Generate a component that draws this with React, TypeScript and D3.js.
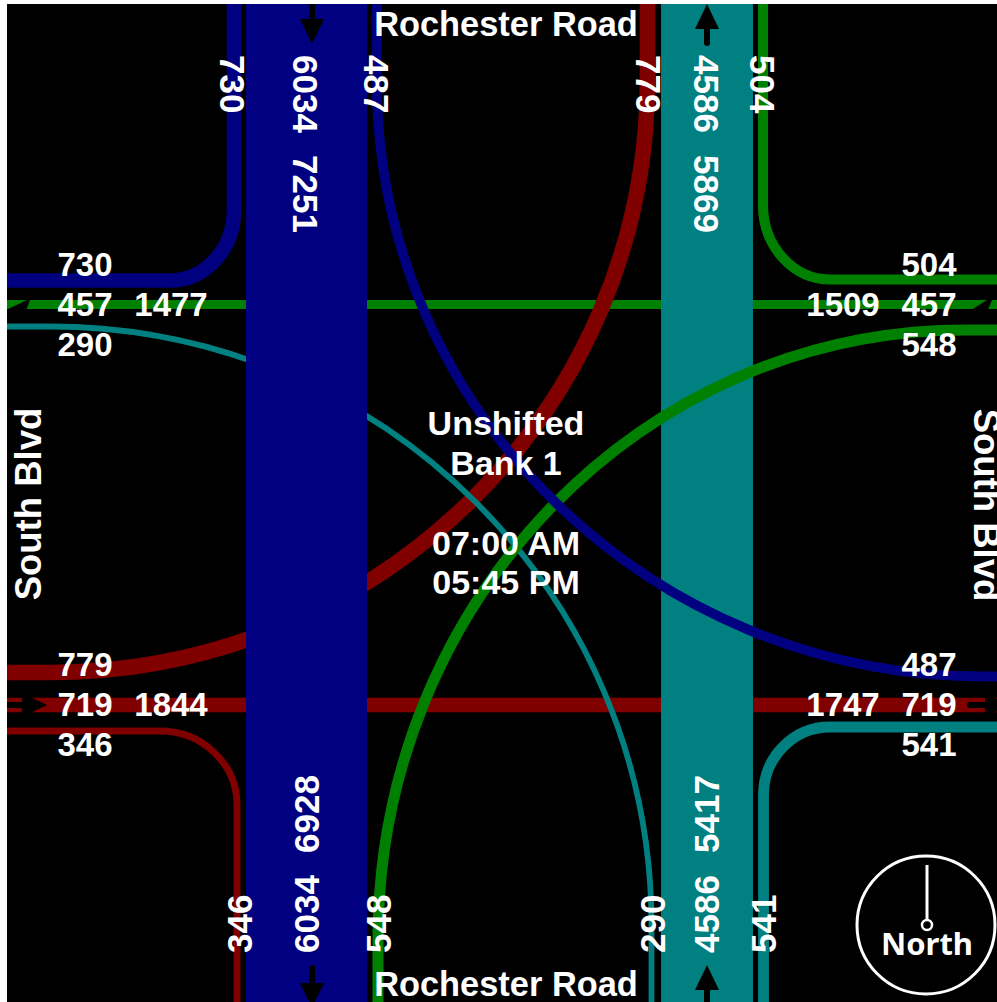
import * as d3 from "d3";

// volumes
const southboundVolume = 6034;
const northboundVolume = 4586;
const westboundThrough = 457;
const eastboundThrough = 719;
const turnVolumes = [730, 290, 779, 346, 487, 548, 504, 541];
const roadNames = ["Rochester Road", "South Blvd"];
const centerLines = ["Unshifted", "Bank 1", "07:00 AM", "05:45 PM"];
const legTotals = [7251, 6928, 5869, 5417, 1477, 1844, 1509, 1747];

const NAVY = "#000080";
const TEAL = "#008080";
const GREEN = "#008000";
const MAROON = "#800000";

const width = 997;
const height = 1002;
const left = 7;
const top = 4;
const K = 0.5523; // bezier handle for a quarter ellipse

const thick = d3.scaleLinear().domain([0, southboundVolume]).range([0, 121]);

// horizontal run, quarter ellipse, vertical run
function bend(x0: number, y0: number, x1: number, y1: number, ex: number, ey: number) {
  const p = d3.path();
  p.moveTo(ex, y0);
  p.lineTo(x0, y0);
  p.bezierCurveTo(x0 + (x1 - x0) * K, y0, x1, y1 + (y0 - y1) * K, x1, y1);
  p.lineTo(x1, ey);
  return p.toString();
}

function Arrow({ x, y, dir, tip }: { x: number; y: number; dir: number; tip: number }) {
  // dir: rotation in degrees, pointing right at 0; tip = distance of the point from (x,y)
  const head = d3.path();
  head.moveTo(tip, 0);
  head.lineTo(tip - 25, -12);
  head.lineTo(tip - 25, 12);
  head.closePath();
  return (
    <g transform={`translate(${x},${y}) rotate(${dir})`}>
      <line x1={0} x2={tip - 20} y1={0} y2={0} stroke="#000" strokeWidth={6} strokeLinecap="round" />
      <path d={head.toString()} fill="#000" />
    </g>
  );
}

function Txt({ x, y, rot, anchor, size, children }: any) {
  return (
    <text
      transform={`translate(${x},${y})${rot ? ` rotate(${rot})` : ""}`}
      textAnchor={anchor ?? "middle"}
      dominantBaseline="central"
      fontFamily="'Liberation Sans', Arial, sans-serif"
      fontWeight="bold"
      fontSize={size ?? (rot ? 35 : 33)}
      fill="#fff"
    >
      {children}
    </text>
  );
}

export default function App() {
  const [nw, wl, el, ws, en, sr, ne, se] = turnVolumes;
  const sbW = thick(southboundVolume);
  const nbW = thick(northboundVolume);
  return (
    <svg width={width} height={height} style={{ position: "fixed", left: 0, top: 0, background: "#fff" }}>
      <defs>
        <clipPath id="frame">
          <rect x={left} y={top} width={width - left} height={height - top} />
        </clipPath>
      </defs>
      <rect x={left} y={top} width={width - left} height={height - top} fill="#000" />
      <g clipPath="url(#frame)">
        {/* through lines on the east-west road */}
        <line x1={0} x2={width} y1={304.5} y2={304.5} stroke={GREEN} strokeWidth={thick(westboundThrough)} />
        <line x1={0} x2={width} y1={705} y2={705} stroke={MAROON} strokeWidth={thick(eastboundThrough)} />
        <path d={bend(50, 672.5, 647.5, 80, 0, 0)} fill="none" stroke={MAROON} strokeWidth={thick(el)} />
        <path d={bend(160, 731, 237, 805, 0, height)} fill="none" stroke={MAROON} strokeWidth={thick(ws)} />
        <path d={bend(50, 326.5, 651.5, 925, 0, height)} fill="none" stroke={TEAL} strokeWidth={thick(wl)} />

        {/* main road bands */}
        <rect x={306.5 - sbW / 2} y={top} width={sbW} height={height} fill={NAVY} />
        <rect x={707 - nbW / 2} y={top} width={nbW} height={height} fill={TEAL} />

        <path d={bend(170, 280.5, 234, 210, 0, 0)} fill="none" stroke={NAVY} strokeWidth={thick(nw)} />
        <path d={bend(830, 279.5, 763, 205, width, 0)} fill="none" stroke={GREEN} strokeWidth={thick(ne)} />
        <path d={bend(830, 727, 763.5, 795, width, height)} fill="none" stroke={TEAL} strokeWidth={thick(se)} />
        <path d={bend(965, 330, 378, 940, width, height)} fill="none" stroke={GREEN} strokeWidth={thick(sr)} />
        <path d={bend(985, 676.5, 376.7, 80, width, 0)} fill="none" stroke={NAVY} strokeWidth={thick(en)} />

        {/* direction arrows */}
        <Arrow x={312} y={4} dir={90} tip={40} />
        <Arrow x={312} y={968} dir={90} tip={40} />
        <Arrow x={707} y={1006} dir={-90} tip={41} />
        <Arrow x={707} y={43} dir={-90} tip={39} />
        <Arrow x={0} y={705} dir={0} tip={47} />
        <Arrow x={970} y={705} dir={0} tip={40} />
        <polygon points="7,309.5 27,300 30,300 26.5,309.5" fill="#000" />
        <polygon points="972,309.5 987,300 992,300 988,309.5" fill="#000" />
      </g>

      {/* top leg labels */}
      <Txt x={232} y={55} rot={90} anchor="start">{nw}</Txt>
      <Txt x={305} y={55} rot={90} anchor="start">{southboundVolume}</Txt>
      <Txt x={305} y={155} rot={90} anchor="start">{legTotals[0]}</Txt>
      <Txt x={376} y={55} rot={90} anchor="start">{en}</Txt>
      <Txt x={648} y={55} rot={90} anchor="start">{el}</Txt>
      <Txt x={706} y={55} rot={90} anchor="start">{northboundVolume}</Txt>
      <Txt x={706} y={155} rot={90} anchor="start">{legTotals[2]}</Txt>
      <Txt x={762} y={55} rot={90} anchor="start">{ne}</Txt>

      {/* bottom leg labels */}
      <Txt x={239} y={953} rot={-90} anchor="start">{ws}</Txt>
      <Txt x={306} y={953} rot={-90} anchor="start">{southboundVolume}</Txt>
      <Txt x={306} y={853} rot={-90} anchor="start">{legTotals[1]}</Txt>
      <Txt x={378} y={953} rot={-90} anchor="start">{sr}</Txt>
      <Txt x={652} y={953} rot={-90} anchor="start">{wl}</Txt>
      <Txt x={706} y={953} rot={-90} anchor="start">{northboundVolume}</Txt>
      <Txt x={706} y={853} rot={-90} anchor="start">{legTotals[3]}</Txt>
      <Txt x={763} y={953} rot={-90} anchor="start">{se}</Txt>

      {/* west leg labels */}
      <Txt x={85} y={264}>{nw}</Txt>
      <Txt x={85} y={304}>{westboundThrough}</Txt>
      <Txt x={171} y={304}>{legTotals[4]}</Txt>
      <Txt x={85} y={344}>{wl}</Txt>
      <Txt x={85} y={664}>{el}</Txt>
      <Txt x={85} y={704}>{eastboundThrough}</Txt>
      <Txt x={171} y={704}>{legTotals[5]}</Txt>
      <Txt x={85} y={744}>{ws}</Txt>

      {/* east leg labels */}
      <Txt x={929} y={264}>{ne}</Txt>
      <Txt x={929} y={304}>{westboundThrough}</Txt>
      <Txt x={843} y={304}>{legTotals[6]}</Txt>
      <Txt x={929} y={344}>{sr}</Txt>
      <Txt x={929} y={664}>{en}</Txt>
      <Txt x={929} y={704}>{eastboundThrough}</Txt>
      <Txt x={843} y={704}>{legTotals[7]}</Txt>
      <Txt x={929} y={744}>{se}</Txt>

      {/* road names */}
      <Txt x={506} y={24} size={34.4}>{roadNames[0]}</Txt>
      <Txt x={506} y={984} size={34.4}>{roadNames[0]}</Txt>
      <Txt x={28} y={504} rot={-90} size={36.5}>{roadNames[1]}</Txt>
      <Txt x={986} y={505} rot={90} size={36.5}>{roadNames[1]}</Txt>

      {/* centre block */}
      <Txt x={506} y={423} size={34}>{centerLines[0]}</Txt>
      <Txt x={506} y={463} size={34}>{centerLines[1]}</Txt>
      <Txt x={506} y={543} size={34}>{centerLines[2]}</Txt>
      <Txt x={506} y={582} size={34}>{centerLines[3]}</Txt>

      {/* north marker */}
      <circle cx={926} cy={925} r={69} fill="none" stroke="#fff" strokeWidth={3} />
      <line x1={927} x2={927} y1={865} y2={920} stroke="#fff" strokeWidth={3} />
      <circle cx={927} cy={925} r={5} fill="none" stroke="#fff" strokeWidth={2.5} />
      <text x={927} y={955} textAnchor="middle" fontFamily="'Noto Sans', sans-serif" fontWeight="bold" fontSize={31} fill="#fff">
        North
      </text>
    </svg>
  );
}
